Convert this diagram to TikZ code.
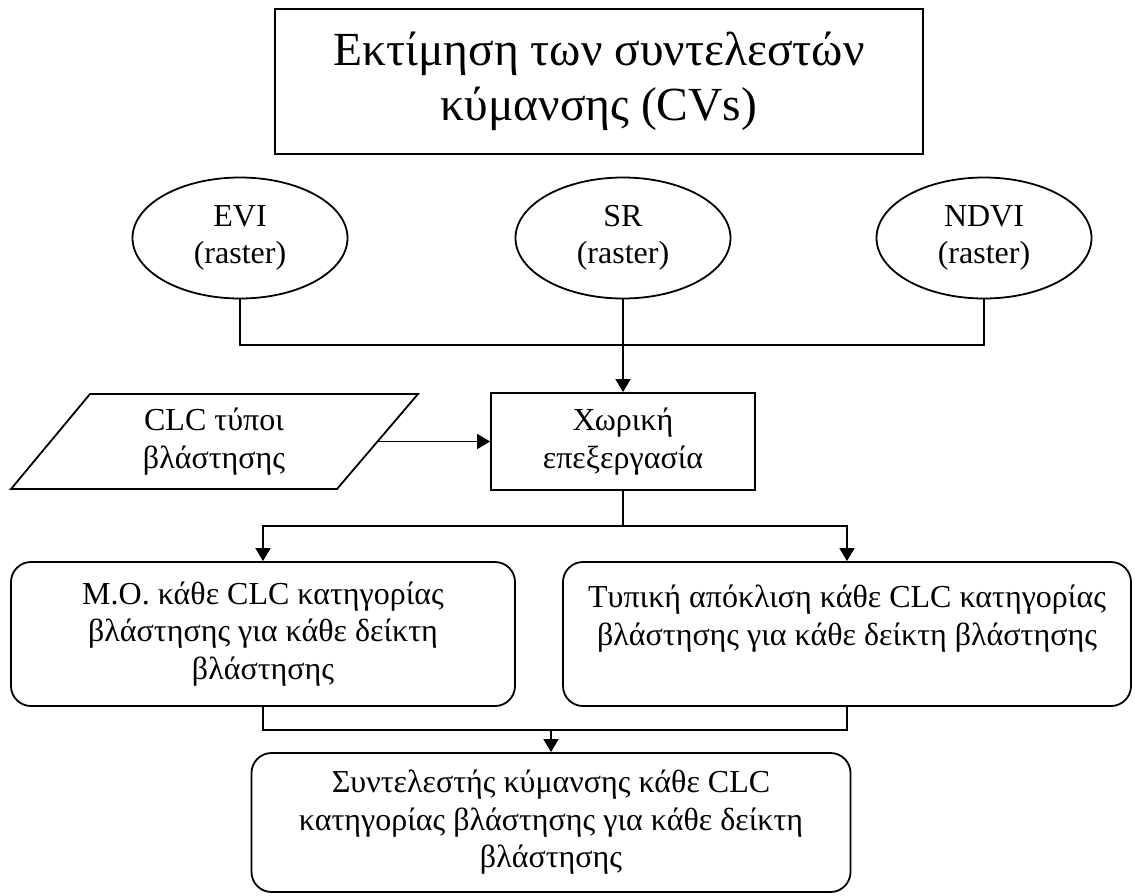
\documentclass[tikz,border=0pt]{standalone}
\usepackage{fontspec}
\setmainfont{Liberation Serif}
\usetikzlibrary{shapes.geometric,arrows.meta}

\begin{document}
\begin{tikzpicture}[x=1pt,y=-1pt,
  line width=1.8pt,
  every node/.style={align=center, inner sep=0pt},
  txt/.style={font=\fontsize{32}{37.6}\selectfont},
  titlebox/.style={draw, rectangle, font=\fontsize{47.5}{55}\selectfont},
  source/.style={draw, ellipse, txt, minimum width=215pt, minimum height=121pt},
  procbox/.style={draw, rectangle, txt},
  resultbox/.style={draw, rectangle, rounded corners=20pt, txt},
  arr/.style={-{Triangle[length=13pt,width=15pt]}}
]
\useasboundingbox (0,0) rectangle (1135,895);

% heading
\node[titlebox, minimum width=648pt, minimum height=145pt] (title) at (599,81.5)
  {Εκτίμηση των συντελεστών\\κύμανσης (CVs)};

% input rasters
\node[source] (evi)  at (240,238) {EVI\\(raster)};
\node[source] (sr)   at (623,238) {SR\\(raster)};
\node[source] (ndvi) at (984,238) {NDVI\\(raster)};

% land cover input (parallelogram) and processing step
\node[txt] (clc) at (214,441.5) {CLC τύποι\\βλάστησης};
\draw (90,394) -- (418,394) -- (337,489) -- (11,489) -- cycle;
\coordinate (clcedge) at (377.5,441.5);

\node[procbox, minimum width=264pt, minimum height=97pt] (proc) at (623,441.5)
  {Χωρική\\επεξεργασία};

% statistics per class
\node[resultbox, minimum width=504pt, minimum height=144pt] (mo) at (263,634)
  {Μ.Ο. κάθε CLC κατηγορίας\\βλάστησης για κάθε δείκτη\\βλάστησης};
\node[resultbox, minimum width=568pt, minimum height=144pt] (sd) at (847,634)
  {Τυπική απόκλιση κάθε CLC κατηγορίας\\βλάστησης για κάθε δείκτη βλάστησης\\~};

% coefficient of variation
\node[resultbox, minimum width=599pt, minimum height=139pt] (cv) at (551,822.5)
  {Συντελεστής κύμανσης κάθε CLC\\κατηγορίας βλάστησης για κάθε δείκτη\\βλάστησης};

% junction points
\coordinate (j1) at (623,345);
\coordinate (j2) at (623,526);
\coordinate (j3) at (551,730);

% connectors
\draw (evi.south) |- (j1) -| (ndvi.south);
\draw[arr] (sr.south) -- (proc.north);
\draw[arr] (clcedge) -- (proc.west);
\draw (proc.south) -- (j2);
\draw[arr] (j2) -| (mo.north);
\draw[arr] (j2) -| (sd.north);
\draw (mo.south) |- (j3) -| (sd.south);
\draw[arr] (j3) -- (cv.north);
\end{tikzpicture}
\end{document}
